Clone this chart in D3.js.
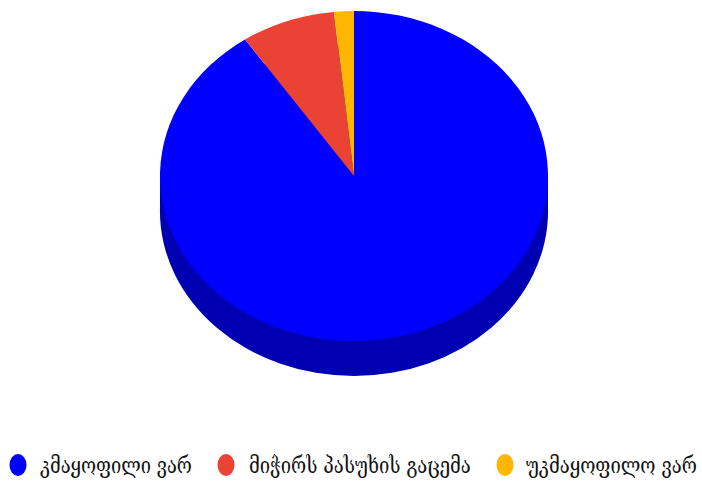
<!DOCTYPE html>
<html><head><meta charset="utf-8">
<script src="https://cdnjs.cloudflare.com/ajax/libs/d3/7.8.5/d3.min.js"></script>
<style>html,body{margin:0;padding:0;background:#fff}svg{display:block}</style>
</head><body><svg id="c" width="702" height="485"></svg>
<script>
const categories = ["კმაყოფილი ვარ","მიჭირს პასუხის გაცემა","უკმაყოფილო ვარ"];
const values = [90.5,7.85,1.65];
const colors = ["#0000ff","#ea4335","#ffb600"];
const sideColor = "#0000b3";
const legendX = [18,226,505];
const legendTextX = [40,249,526];
const legendTextW = [152,222,171];

const cx=354, cy=176, rx=194, ry=165, depth=35;
const svg=d3.select("#c");
const pie=d3.pie().sort(null).value(d=>d)(values);
const arc=d3.arc().innerRadius(0).outerRadius(rx);
const full=d3.arc().innerRadius(0).outerRadius(rx).startAngle(0).endAngle(2*Math.PI);
const k=ry/rx;
svg.append("path").attr("d",full()).attr("fill",sideColor)
  .attr("transform",`translate(${cx},${cy+depth}) scale(1,${k})`);
svg.append("rect").attr("x",cx-rx).attr("y",cy).attr("width",2*rx).attr("height",depth).attr("fill",sideColor);
svg.append("g").attr("transform",`translate(${cx},${cy}) scale(1,${k})`)
  .selectAll("path").data(pie).join("path")
  .attr("d",arc).attr("fill",(d,i)=>colors[i]);
const lg=svg.append("g");
categories.forEach((c,i)=>{
  lg.append("ellipse").attr("cx",legendX[i]).attr("cy",465).attr("rx",8.5).attr("ry",11).attr("fill",colors[i]);
  const t=lg.append("text").attr("font-family","'DejaVu Serif','DejaVu Sans'").attr("font-size",23).attr("fill","#111").text(c);
  const sx=legendTextW[i]/t.node().getComputedTextLength();
  t.attr("transform",`translate(${legendTextX[i]},473) scale(${sx},1)`);
});
</script></body></html>
